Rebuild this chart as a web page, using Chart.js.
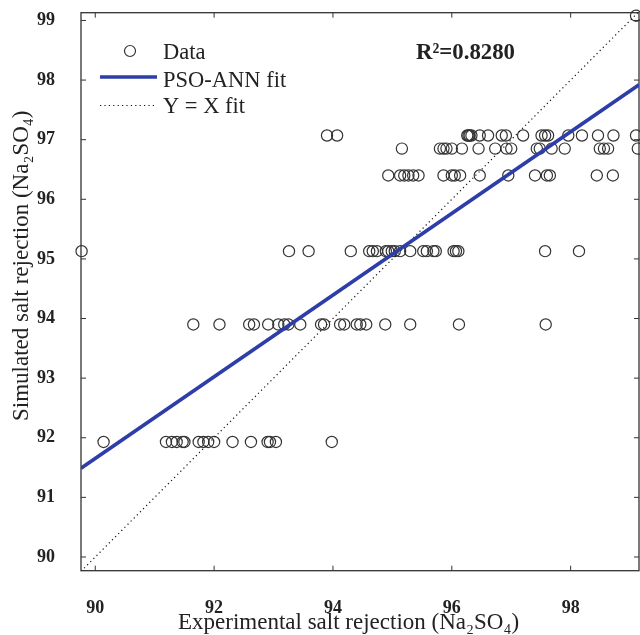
<!DOCTYPE html>
<html><head><meta charset="utf-8">
<script src="https://cdn.jsdelivr.net/npm/chart.js@4.4.1/dist/chart.umd.min.js"></script>
<style>html,body{margin:0;padding:0;background:#fff}#wrap{width:640px;height:635px}</style>
</head><body><div id="wrap"><canvas id="c" width="640" height="635"></canvas></div>
<script>
// ---- data ----
const xTicks = [90, 92, 94, 96, 98];
const yTicks = [90, 91, 92, 93, 94, 95, 96, 97, 98, 99];
const rowLevels = [91.93, 93.90, 95.13, 96.40, 96.85, 97.07, 99.08];
const row1X = [90.14, 91.19, 91.29, 91.37, 91.47, 91.50, 91.74, 91.82, 91.90, 92.00, 92.31, 92.62, 92.90, 92.94, 93.04, 93.98];
const row2X = [91.65, 92.09, 92.59, 92.67, 92.91, 93.08, 93.18, 93.25, 93.45, 93.80, 93.85, 94.12, 94.19, 94.40, 94.46, 94.56, 94.88, 95.30, 96.12, 97.58];
const row3X = [89.77, 93.26, 93.59, 94.30, 94.61, 94.67, 94.74, 94.89, 94.93, 94.99, 95.04, 95.13, 95.30, 95.52, 95.58, 95.69, 95.73, 96.03, 96.07, 96.11, 97.57, 98.14];
const row4X = [94.93, 95.13, 95.20, 95.27, 95.35, 95.44, 95.86, 96.00, 96.05, 96.14, 96.47, 96.95, 97.40, 97.60, 97.65, 98.44, 98.71];
const row5X = [95.16, 95.80, 95.86, 95.91, 96.00, 96.17, 96.45, 96.73, 96.92, 97.00, 97.43, 97.48, 97.68, 97.90, 98.49, 98.56, 98.63, 99.13];
const row6X = [93.90, 94.07, 96.26, 96.28, 96.30, 96.33, 96.47, 96.61, 96.84, 96.91, 97.20, 97.51, 97.57, 97.62, 97.96, 98.19, 98.46, 98.72, 99.10];
const row7X = [99.10];
const fitX = [89.76, 99.15];
const fitY = [91.49, 97.92];
const idX = [89.76, 99.15];
const idY = [89.76, 99.15];
const seriesLabels = ['Data', 'PSO-ANN fit', 'Y = X fit'];
const r2Text = 'R²=0.8280';
const xTitle = 'Experimental salt rejection (Na₂SO₄)';
const yTitle = 'Simulated salt rejection (Na₂SO₄)';

const rows = [row1X, row2X, row3X, row4X, row5X, row6X, row7X];
const pts = [];
rows.forEach((r, i) => r.forEach(x => pts.push({x: x, y: rowLevels[i]})));

const FONT = '"Liberation Serif", "Times New Roman", serif';
const BLUE = '#2e3ea8';
const INK = '#333';

const framePlugin = {
  id: 'frame',
  beforeDatasetsDraw(chart) {
    const {ctx, chartArea: a, scales: {x, y}} = chart;
    ctx.save();
    ctx.strokeStyle = INK; ctx.lineWidth = 1.3;
    ctx.strokeRect(a.left, a.top, a.right - a.left, a.bottom - a.top);
    ctx.lineWidth = 1;
    ctx.beginPath();
    xTicks.forEach(v => {
      const p = x.getPixelForValue(v);
      ctx.moveTo(p, a.bottom); ctx.lineTo(p, a.bottom - 5);
      ctx.moveTo(p, a.top); ctx.lineTo(p, a.top + 5);
    });
    yTicks.forEach(v => {
      const p = y.getPixelForValue(v);
      ctx.moveTo(a.left, p); ctx.lineTo(a.left + 5, p);
      ctx.moveTo(a.right, p); ctx.lineTo(a.right - 5, p);
    });
    ctx.stroke();
    ctx.restore();
  },
  afterDraw(chart) {
    const ctx = chart.ctx;
    const ds = chart.data.datasets;
    ctx.save();
    ctx.fillStyle = '#222';
    ctx.textBaseline = 'middle';
    ctx.textAlign = 'left';
    ctx.font = '22.5px ' + FONT;
    // legend: Data
    ctx.strokeStyle = ds[0].borderColor; ctx.lineWidth = ds[0].pointBorderWidth;
    ctx.beginPath(); ctx.arc(130, 51, 5.5, 0, Math.PI * 2); ctx.stroke();
    ctx.fillText(seriesLabels[0], 163, 53);
    // PSO-ANN fit
    ctx.strokeStyle = ds[1].borderColor; ctx.lineWidth = ds[1].borderWidth;
    ctx.beginPath(); ctx.moveTo(100, 77); ctx.lineTo(157, 77); ctx.stroke();
    ctx.fillText(seriesLabels[1], 163, 81);
    // Y = X fit
    ctx.strokeStyle = ds[2].borderColor; ctx.lineWidth = ds[2].borderWidth;
    ctx.setLineDash(ds[2].borderDash);
    ctx.beginPath(); ctx.moveTo(100, 105.5); ctx.lineTo(155, 105.5); ctx.stroke();
    ctx.setLineDash([]);
    ctx.fillText(seriesLabels[2], 163, 107);
    // R^2
    ctx.font = 'bold 22.8px ' + FONT;
    ctx.fillText(r2Text, 416, 53);
    // axis titles
    ctx.font = '23px ' + FONT;
    ctx.fillText(xTitle, 178, 623);
    ctx.translate(21.7, 421);
    ctx.rotate(-Math.PI / 2);
    ctx.fillText(yTitle, 0, 0);
    ctx.restore();
  }
};

function zeroPad(s) { s.paddingTop = 0; s.paddingBottom = 0; s.paddingLeft = 0; s.paddingRight = 0; }

new Chart(document.getElementById('c'), {
  type: 'scatter',
  data: {
    datasets: [
      {label: seriesLabels[0], data: pts, showLine: false, pointStyle: 'circle', pointRadius: 5.6,
       pointBorderWidth: 1.2, borderColor: INK, pointBorderColor: INK, backgroundColor: 'rgba(0,0,0,0)',
       pointBackgroundColor: 'rgba(0,0,0,0)', order: 2, clip: false},
      {label: seriesLabels[1], data: fitX.map((x, i) => ({x: x, y: fitY[i]})), showLine: true,
       borderColor: BLUE, borderWidth: 3.6, pointRadius: 0, order: 0},
      {label: seriesLabels[2], data: idX.map((x, i) => ({x: x, y: idY[i]})), showLine: true,
       borderColor: '#111', borderWidth: 1.2, borderDash: [1.2, 3.2], pointRadius: 0, order: 1}
    ]
  },
  options: {
    responsive: false, animation: false, devicePixelRatio: 1,
    layout: {autoPadding: false, padding: {top: 12.7, right: 1, left: 0, bottom: 0}},
    plugins: {legend: {display: false}, tooltip: {enabled: false}},
    scales: {
      x: {type: 'linear', min: 89.76, max: 99.15,
          grid: {display: false}, border: {display: false},
          ticks: {font: {family: FONT, size: 18, weight: 'bold'}, color: '#222', padding: 19, maxRotation: 0, autoSkip: false},
          afterBuildTicks: s => { s.ticks = xTicks.map(v => ({value: v})); },
          afterFit: s => { s.height = 64.3; zeroPad(s); }},
      y: {type: 'linear', min: 89.77, max: 99.13,
          grid: {display: false}, border: {display: false},
          ticks: {font: {family: FONT, size: 18, weight: 'bold'}, color: '#222', padding: 18, autoSkip: false},
          afterBuildTicks: s => { s.ticks = yTicks.map(v => ({value: v})); },
          afterFit: s => { s.width = 81; zeroPad(s); }}
    }
  },
  plugins: [framePlugin]
});
</script>
</body></html>
